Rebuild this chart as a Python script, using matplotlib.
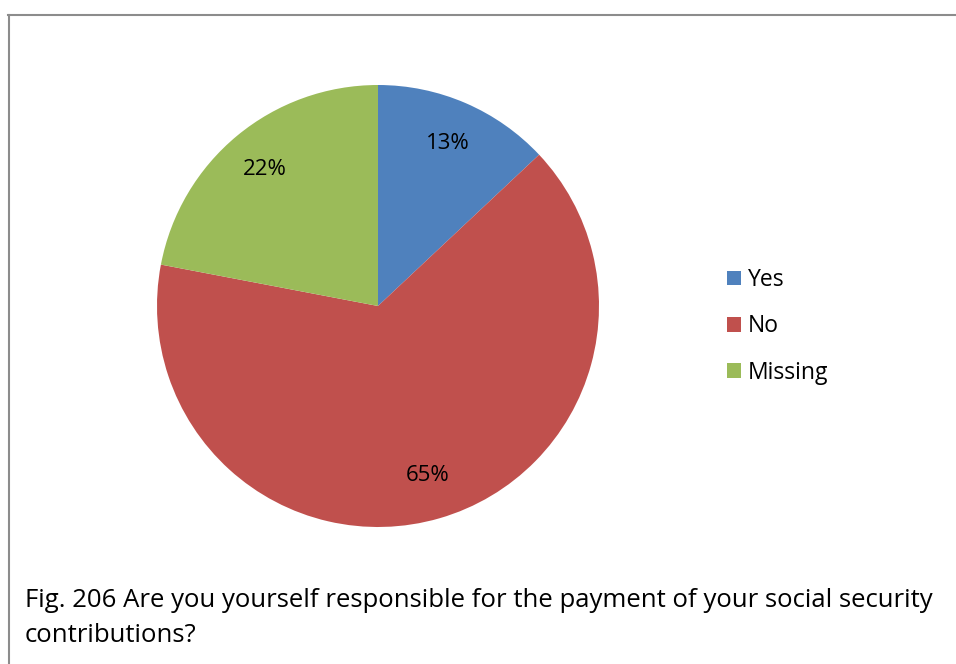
import matplotlib
matplotlib.use('Agg')
import matplotlib.pyplot as plt
from matplotlib.patches import Patch
from matplotlib.lines import Line2D

plt.rcParams['font.family'] = ['Open Sans', 'DejaVu Sans']

labels = ['Yes', 'No', 'Missing']
shares = [13, 65, 22]
colors = ['#4F81BD', '#C0504D', '#9BBB59']
caption_lines = ['Fig. 206 Are you yourself responsible for the payment of your social security',
                 'contributions?']

W, H = 956, 664
fig = plt.figure(figsize=(W / 100, H / 100), dpi=100)

# frame lines (top and left only)
fig.add_artist(Line2D([8 / W, 1], [1 - 14.5 / H, 1 - 14.5 / H], color='#8c8c8c', lw=1.5))
fig.add_artist(Line2D([8.5 / W, 8.5 / W], [0, 1 - 14.5 / H], color='#8c8c8c', lw=1.5))

# pie axes: center (378, 306), radius 221 px
ax = fig.add_axes([157 / W, (H - 527) / H, 442 / W, 442 / H])
ax.pie(shares, colors=colors, startangle=90, counterclock=False,
       autopct='%1.0f%%', pctdistance=0.8,
       textprops={'fontsize': 16, 'color': 'black'},
       wedgeprops={'linewidth': 0})
ax.set_xlim(-1, 1)
ax.set_ylim(-1, 1)
ax.set_aspect('equal')
ax.axis('off')

handles = [Patch(facecolor=c, edgecolor='none') for c in colors]
fig.legend(handles, labels, loc='upper left', bbox_to_anchor=(727 / W, 1 - 268 / H),
           frameon=False, fontsize=16.5, handlelength=0.62, handleheight=0.62,
           handletextpad=0.3, labelspacing=0.98, borderpad=0, borderaxespad=0)

for i, line in enumerate(caption_lines):
    fig.text(25 / W, 1 - (607 + 35 * i) / H, line, fontsize=18.5,
             va='baseline', ha='left')

fig.savefig('out.png', dpi=100)
